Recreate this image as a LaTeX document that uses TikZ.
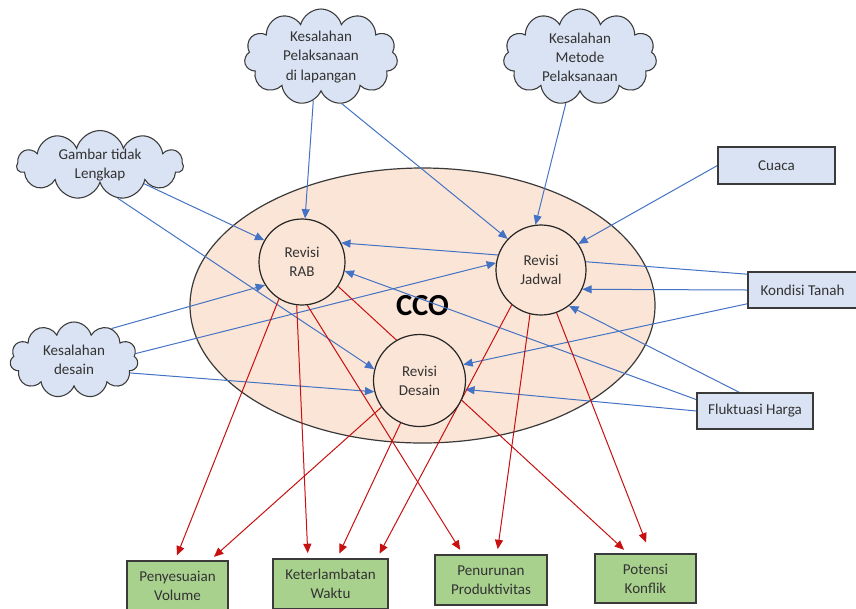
\documentclass[tikz,border=0pt]{standalone}
\usepackage{fontspec}
\setmainfont{Carlito}
\usetikzlibrary{shapes.geometric,shapes.symbols,arrows.meta,calc}
\pgfdeclarelayer{back}
\pgfdeclarelayer{mid}
\pgfsetlayers{back,mid,main}
\definecolor{peach}{HTML}{FBE5D6}
\definecolor{paleblue}{HTML}{DAE3F3}
\definecolor{leaf}{HTML}{A9D18E}
\definecolor{edgegray}{HTML}{3A3A3A}
\definecolor{causeblue}{HTML}{4472C4}
\definecolor{effectred}{HTML}{C81010}

\begin{document}
\begin{tikzpicture}[x=0.75pt,y=-0.75pt,
        every node/.style={font=\fontsize{11.3}{14.3}\selectfont,align=center,text=black!80},
        cloudbox/.style={cloud,cloud puffs=11,cloud ignores aspect,draw=edgegray,fill=paleblue,inner sep=0pt,line width=0.8pt},
        factor/.style={rectangle,draw=edgegray,fill=paleblue,line width=0.9pt},
        revisi/.style={circle,draw=black!85,fill=peach,inner sep=0pt,line width=0.9pt},
        impact/.style={rectangle,draw=edgegray,fill=leaf,line width=0.9pt},
        cause/.style={draw=causeblue,line width=0.75pt,-{Triangle[length=7pt,width=6pt]}},
        effect/.style={draw=effectred,line width=0.75pt,-{Triangle[length=7pt,width=6pt]},shorten >=4pt}]
        \clip (0,0) rectangle (856,608);

        \begin{pgfonlayer}{back}
        \node[ellipse,draw=edgegray,fill=peach,line width=0.9pt,minimum width=348.75pt,minimum height=206.25pt,
              font=\fontsize{23}{26}\selectfont\bfseries,text=black] (cco) at (422.5,305.5) {CCO};
        \end{pgfonlayer}

        % sebab
        \node[cloudbox,minimum width=115pt,minimum height=72pt] (pel) at (321,57)  {Kesalahan\\Pelaksanaan\\di lapangan};
        \node[cloudbox,minimum width=115pt,minimum height=72pt] (met) at (580,57)  {Kesalahan\\Metode\\Pelaksanaan};
        \node[cloudbox,minimum width=125pt,minimum height=49pt] (gam) at (100,165) {Gambar tidak\\Lengkap};
        \node[cloudbox,minimum width=96pt,minimum height=57pt]  (kds) at (74,360)  {Kesalahan\\desain};
        \node[factor,minimum width=87.75pt,minimum height=27.75pt] (cua)  at (776.5,165.5) {Cuaca};
        \node[factor,minimum width=81.75pt,minimum height=27pt]    (tan)  at (802.5,290)   {Kondisi Tanah};
        \node[factor,minimum width=87pt,minimum height=27pt]       (fluk) at (755,411)     {Fluktuasi Harga};

        % revisi
        \node[revisi,minimum size=64.5pt] (rab) at (302,262)     {Revisi\\RAB};
        \node[revisi,minimum size=67.5pt] (jad) at (541,270)     {Revisi\\Jadwal};
        \node[revisi,minimum size=69pt]   (des) at (419.5,380.5) {Revisi\\Desain};

        % akibat
        \node[impact,minimum width=75.75pt,minimum height=37.5pt] (vol) at (177.5,586) {Penyesuaian\\Volume};
        \node[impact,minimum width=86.25pt,minimum height=37.5pt] (ket) at (330.5,584) {Keterlambatan\\Waktu};
        \node[impact,minimum width=84pt,minimum height=37.5pt]    (pen) at (491,580)   {Penurunan\\Produktivitas};
        \node[impact,minimum width=75.75pt,minimum height=36.75pt] (kon) at (645.5,578.5) {Potensi\\Konflik};

        \begin{pgfonlayer}{mid}
        \draw[cause] (pel.260) -- (rab.86);
        \draw[cause] (pel.294) -- (jad.137);
        \draw[cause] (met.253) -- (jad.97);
        \draw[cause] (gam.337) -- (rab.150);
        \draw[cause] (gam.298) -- (des.166);
        \draw[cause] (cua.west) -- (jad.35);
        \draw[cause] (tan.164) -- (rab.26);
        \draw[cause] (tan.west) -- (jad.335);
        \draw[cause] (tan.194) -- (des.20);
        \draw[cause] (kds.40) -- (rab.212);
        \draw[cause] (kds.6) -- (jad.171);
        \draw[cause] (kds.347) -- (des.194);
        \draw[cause] (fluk.130) -- (jad.308);
        \draw[cause] (fluk.169) -- (rab.348);
        \draw[cause] (fluk.west) -- (des.349);

        \draw[effect] (rab.238) -- ($(vol.north)+(-2.5,0)$);
        \draw[effect] (rab.263) -- ($(ket.north)+(-22.5,0)$);
        \draw[effect] (rab.277) -- ($(pen.north)+(-28,0)$);
        \draw[effect] (rab.326) -- ($(kon.north)+(-17.5,0)$);
        \draw[effect] (des.215) -- ($(vol.north)+(32.5,0)$);
        \draw[effect] (des.246) -- ($(ket.north)+(6.5,0)$);
        \draw[effect] (jad.230) -- ($(ket.north)+(46.5,0)$);
        \draw[effect] (jad.256) -- ($(pen.north)+(6,0)$);
        \draw[effect] (jad.290) -- ($(kon.north)+(2.5,-6)$);
        \end{pgfonlayer}
    \end{tikzpicture}
\end{document}
